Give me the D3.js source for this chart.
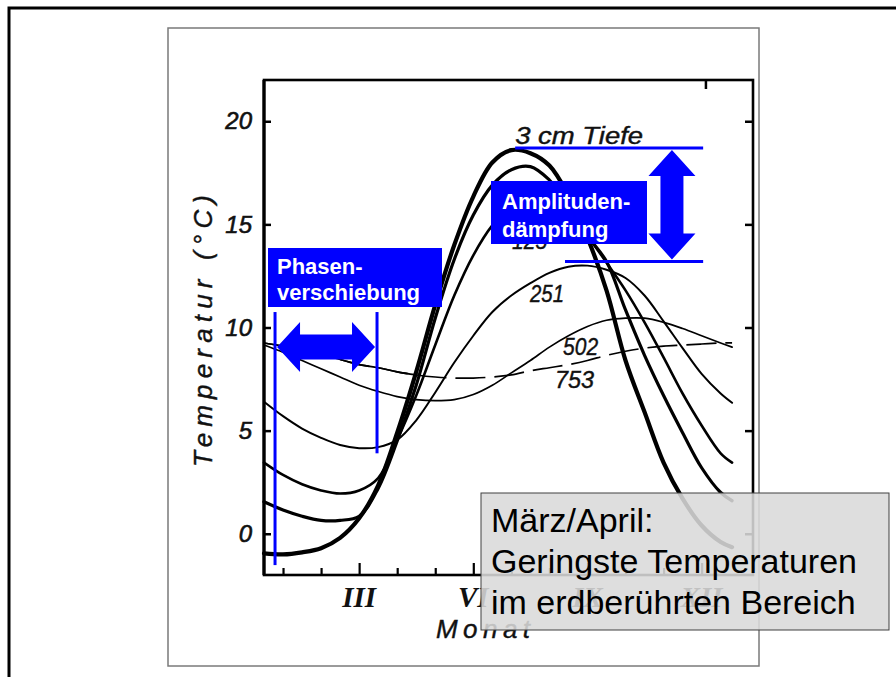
<!DOCTYPE html>
<html>
<head>
<meta charset="utf-8">
<script src="https://cdn.jsdelivr.net/npm/d3@7"></script>
<style>
  body { margin: 0; background: #fff; }
</style>
</head>
<body>
<div id="chart"></div>
<script>
// data (soil temperature by month, per depth)
const months   = [0.5, 1, 1.5, 2, 2.5, 3, 3.5, 4, 4.5, 5, 5.5, 6, 6.5, 7, 7.5, 8, 8.5, 9, 9.5, 10, 10.5, 11, 11.5, 12, 12.5, 12.8]
const depth3   = [-0.95, -1.0, -0.9, -0.7, -0.2, 0.75, 2.35, 4.9, 7.85, 11.1, 14.0, 16.35, 18.0, 18.6, 18.45, 17.85, 16.4, 14.35, 11.8, 8.4, 5.9, 3.45, 1.7, 0.4, -0.4, -0.65]
const depth2   = [1.55, 1.15, 0.85, 0.65, 0.65, 0.85, 2.2, 4.5, 7.2, 10.45, 13.3, 15.45, 16.9, 17.65, 17.8, 17.15, 15.95, 14.45, 13.2, 10.85, 8.65, 6.7, 4.9, 3.2, 2.0, 1.6]
const depth125 = [3.45, 2.85, 2.4, 2.1, 1.95, 2.1, 2.7, 4.55, 6.7, 9.15, 11.55, 13.5, 14.95, 15.85, 16.3, 16.3, 15.7, 14.45, 13.15, 11.8, 10.25, 8.55, 6.8, 5.25, 3.9, 3.45]
const depth251 = [6.4, 5.7, 5.1, 4.65, 4.3, 4.15, 4.2, 4.55, 5.5, 6.85, 8.3, 9.6, 10.75, 11.55, 12.15, 12.65, 12.95, 13.0, 12.8, 12.4, 11.55, 10.3, 9.0, 7.75, 6.8, 6.35]
const depth502 = [9.15, 8.8, 8.4, 8.0, 7.6, 7.2, 6.9, 6.65, 6.5, 6.45, 6.5, 6.75, 7.2, 7.8, 8.4, 9.05, 9.6, 10.05, 10.35, 10.45, 10.45, 10.25, 9.95, 9.6, 9.25, 9.05]
const depth753 = [9.25, 9.1, 8.9, 8.7, 8.45, 8.2, 8.05, 7.85, 7.7, 7.6, 7.55, 7.55, 7.6, 7.7, 7.9, 8.05, 8.2, 8.4, 8.65, 8.85, 9.0, 9.1, 9.15, 9.2, 9.25, 9.25]

const yTicks = [0, 5, 10, 15, 20]
const monthTicks = [1, 2, 3, 4, 5, 6, 7, 8, 9, 10, 11, 12]
const majorMonths = [3, 6, 9, 12]
const monthLabels = ["III", "VI", "IX", "XII"]
const depthLabels = ["3 cm Tiefe", "125", "251", "502", "753"]

// annotation values (months / °C)
const phaseStart = 0.79, phaseEnd = 3.47
const ampTop = 18.7, ampBottom = 13.2

const width = 896
const height = 677
const plot = { left: 264, right: 753, top: 80, bottom: 575 }
const blue = "#0000ff"
const scanFont = "'Liberation Sans', Arial, sans-serif"

const svg = d3.select("#chart")
    .append("svg")
      .attr("width", width)
      .attr("height", height)

// slide frame + scanned picture border
svg.append("rect")
    .attr("x", 9).attr("y", 8)
    .attr("width", width + 20).attr("height", height + 20)
    .attr("fill", "none").attr("stroke", "#000").attr("stroke-width", 3)
svg.append("rect")
    .attr("x", 168).attr("y", 28)
    .attr("width", 591).attr("height", 638)
    .attr("fill", "#fff").attr("stroke", "#7a7a7a").attr("stroke-width", 1.5)

const x = d3.scaleLinear().domain([0.5, 13.35]).range([plot.left, plot.right])
const y = d3.scaleLinear().domain([-2, 22]).range([plot.bottom, plot.top])

const axisGroup = svg.append("g").attr("id", "axisGroup")

// left axis, ticks point inwards
const leftAxis = axisGroup.append("g")
    .attr("transform", `translate(${plot.left},0)`)
    .call(d3.axisLeft(y).tickValues(yTicks).tickSizeInner(-7).tickSizeOuter(0).tickPadding(12))
leftAxis.select(".domain").remove()
leftAxis.selectAll("line").attr("stroke", "#000").attr("stroke-width", 2.5)
leftAxis.selectAll("text")
    .attr("font-size", 24).attr("font-style", "italic")
    .attr("font-family", scanFont).attr("fill", "#111")
    .attr("stroke", "#111").attr("stroke-width", 0.6)

const rightAxis = axisGroup.append("g")
    .attr("transform", `translate(${plot.right},0)`)
    .call(d3.axisLeft(y).tickValues(yTicks).tickSize(8).tickFormat(""))
rightAxis.select(".domain").remove()
rightAxis.selectAll("line").attr("stroke", "#000").attr("stroke-width", 2.5)

const bottomAxis = axisGroup.append("g")
    .attr("transform", `translate(0,${plot.bottom})`)
    .call(d3.axisTop(x).tickValues(monthTicks).tickSize(7).tickFormat(""))
bottomAxis.select(".domain").remove()
bottomAxis.selectAll(".tick line")
    .attr("y2", d => majorMonths.includes(d) ? -12 : -7)
    .attr("stroke", "#000").attr("stroke-width", 2.2)

const topAxis = axisGroup.append("g")
    .attr("transform", `translate(0,${plot.top})`)
    .call(d3.axisBottom(x).tickValues([12.1]).tickSize(9).tickFormat(""))
topAxis.select(".domain").remove()
topAxis.selectAll("line").attr("stroke", "#000").attr("stroke-width", 2.5)

// plot frame
axisGroup.append("rect")
    .attr("x", plot.left).attr("y", plot.top)
    .attr("width", plot.right - plot.left).attr("height", plot.bottom - plot.top)
    .attr("fill", "none").attr("stroke", "#000").attr("stroke-width", 2.6)
axisGroup.append("line")
    .attr("x1", plot.left).attr("x2", plot.left)
    .attr("y1", plot.top).attr("y2", plot.bottom)
    .attr("stroke", "#000").attr("stroke-width", 3.2)

// month labels (roman)
axisGroup.selectAll("text.month")
    .data(monthLabels)
    .enter().append("text")
      .attr("class", "month")
      .attr("x", (d, i) => x(majorMonths[i]))
      .attr("y", 607)
      .attr("text-anchor", "middle")
      .attr("font-family", "'Liberation Serif', serif")
      .attr("font-weight", "bold").attr("font-style", "italic")
      .attr("font-size", 29).attr("fill", "#111")
      .text(d => d)

axisGroup.append("text")
    .attr("x", 436).attr("y", 638)
    .attr("font-family", scanFont).attr("font-style", "italic")
    .attr("font-size", 26).attr("fill", "#111")
    .attr("stroke", "#111").attr("stroke-width", 0.4)
    .attr("textLength", 94).attr("lengthAdjust", "spacing")
    .text("Monat")

axisGroup.append("text")
    .attr("transform", "translate(212,331) rotate(-90)")
    .attr("text-anchor", "middle")
    .attr("font-family", scanFont).attr("font-style", "italic")
    .attr("font-size", 26).attr("fill", "#111")
    .attr("stroke", "#111").attr("stroke-width", 0.4)
    .attr("textLength", 272).attr("lengthAdjust", "spacing")
    .text("Temperatur (°C)")

// curves
const elementGroup = svg.append("g").attr("id", "elementGroup")
const line = d3.line()
    .x((d, i) => x(months[i]))
    .y(d => y(d))
    .curve(d3.curveCatmullRom.alpha(0.5))

const series = [
    { values: depth3,   w: 4.2 },
    { values: depth2,   w: 3.2 },
    { values: depth125, w: 2.6 },
    { values: depth251, w: 2.0 },
    { values: depth502, w: 1.7 }
]
elementGroup.selectAll("path.curve")
    .data(series)
    .enter().append("path")
      .attr("class", "curve")
      .attr("fill", "none").attr("stroke", "#000")
      .attr("stroke-width", d => d.w)
      .attr("stroke-linecap", "round")
      .attr("d", d => line(d.values))

elementGroup.append("path")
    .attr("fill", "none").attr("stroke", "#000")
    .attr("stroke-width", 1.7)
    .attr("stroke-dasharray", "30,9")
    .attr("d", line(depth753))
elementGroup.append("path")
    .attr("fill", "none").attr("stroke", "#000")
    .attr("stroke-width", 1.7)
    .attr("d", line(depth753.slice(0, 9)))

// depth labels
const labelSpots = [[7.1, 18.9], [7.02, 13.8], [7.49, 11.24], [8.36, 8.67], [8.15, 7.07]]
const labelWidths = [128, 35, 34, 35, 39]
elementGroup.selectAll("text.depth")
    .data(depthLabels)
    .enter().append("text")
      .attr("class", "depth")
      .attr("x", (d, i) => x(labelSpots[i][0]))
      .attr("y", (d, i) => y(labelSpots[i][1]))
      .attr("font-family", scanFont).attr("font-style", "italic")
      .attr("font-size", 23).attr("fill", "#111")
      .attr("stroke", "#111").attr("stroke-width", 0.4)
      .attr("textLength", (d, i) => labelWidths[i]).attr("lengthAdjust", "spacingAndGlyphs")
      .text(d => d)

// grey note box (semi transparent over the scan)
const note = svg.append("g").attr("id", "note")
note.append("rect")
    .attr("x", 481).attr("y", 493).attr("width", 408).attr("height", 137)
    .attr("fill", "#d9d9d9").attr("fill-opacity", 0.88)
    .attr("stroke", "#404040").attr("stroke-width", 1)
const noteLines = ["März/April:", "Geringste Temperaturen", "im erdberührten Bereich"]
note.selectAll("text")
    .data(noteLines)
    .enter().append("text")
      .attr("x", 491)
      .attr("y", (d, i) => 532 + i * 41)
      .attr("font-family", "'Liberation Sans', Arial, sans-serif")
      .attr("font-size", 34).attr("fill", "#000")
      .text(d => d)

// blue annotations
const annot = svg.append("g").attr("id", "annotations")

function arrowH(x1, x2, cy, head, hh, sh) {
    return `M${x1},${cy} L${x1 + head},${cy - hh} L${x1 + head},${cy - sh} L${x2 - head},${cy - sh} L${x2 - head},${cy - hh}
            L${x2},${cy} L${x2 - head},${cy + hh} L${x2 - head},${cy + sh} L${x1 + head},${cy + sh} L${x1 + head},${cy + hh} Z`
}
function arrowV(cx, y1, y2, head, hw, sw) {
    return `M${cx},${y1} L${cx + hw},${y1 + head} L${cx + sw},${y1 + head} L${cx + sw},${y2 - head} L${cx + hw},${y2 - head}
            L${cx},${y2} L${cx - hw},${y2 - head} L${cx - sw},${y2 - head} L${cx - sw},${y1 + head} L${cx - hw},${y1 + head} Z`
}

// phase shift
annot.append("line")
    .attr("x1", x(phaseStart)).attr("x2", x(phaseStart))
    .attr("y1", y(10.75)).attr("y2", y(-1.52))
    .attr("stroke", blue).attr("stroke-width", 3)
annot.append("line")
    .attr("x1", x(phaseEnd)).attr("x2", x(phaseEnd))
    .attr("y1", y(10.75)).attr("y2", y(3.9))
    .attr("stroke", blue).attr("stroke-width", 3)
annot.append("path")
    .attr("d", arrowH(x(phaseStart) + 2, x(phaseEnd) - 2, y(9.05), 23, 25, 12.5))
    .attr("fill", blue)
annot.append("rect")
    .attr("x", 268).attr("y", 248).attr("width", 174).attr("height", 59)
    .attr("fill", blue)
annot.selectAll("text.phase")
    .data(["Phasen-", "verschiebung"])
    .enter().append("text")
      .attr("class", "phase")
      .attr("x", 277).attr("y", (d, i) => 274 + i * 26)
      .attr("font-family", "'Liberation Sans', Arial, sans-serif")
      .attr("font-weight", "bold").attr("font-size", 22).attr("fill", "#fff")
      .text(d => d)

// amplitude damping
annot.append("line")
    .attr("x1", x(7.1)).attr("x2", x(12.04))
    .attr("y1", y(ampTop)).attr("y2", y(ampTop))
    .attr("stroke", blue).attr("stroke-width", 3)
annot.append("line")
    .attr("x1", x(8.41)).attr("x2", x(12.04))
    .attr("y1", y(ampBottom)).attr("y2", y(ampBottom))
    .attr("stroke", blue).attr("stroke-width", 3)
annot.append("path")
    .attr("d", arrowV(x(11.22), y(ampTop) + 2, y(ampBottom) - 2, 26, 23.5, 11.5))
    .attr("fill", blue)
annot.append("rect")
    .attr("x", 491).attr("y", 181).attr("width", 156).attr("height", 63)
    .attr("fill", blue)
annot.selectAll("text.amp")
    .data(["Amplituden-", "dämpfung"])
    .enter().append("text")
      .attr("class", "amp")
      .attr("x", 502).attr("y", (d, i) => 209 + i * 28)
      .attr("font-family", "'Liberation Sans', Arial, sans-serif")
      .attr("font-weight", "bold").attr("font-size", 22).attr("fill", "#fff")
      .text(d => d)
</script>
</body>
</html>
